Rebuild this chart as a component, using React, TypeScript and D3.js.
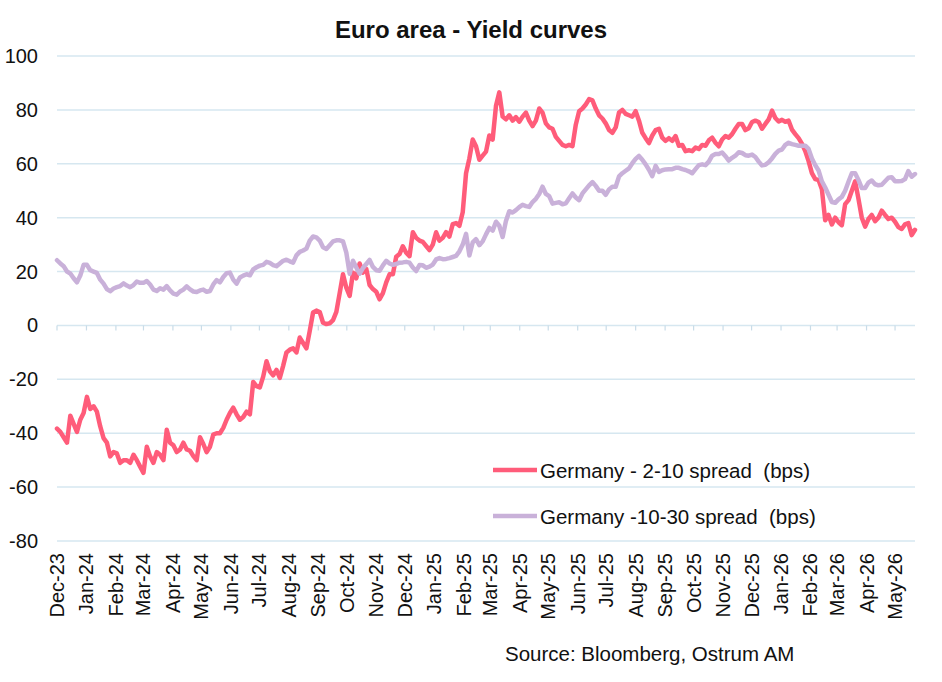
import React, { useRef, useEffect } from 'react';
import * as d3 from 'd3';

// Twice-weekly observations (every 3.5 days) starting 1 Dec 2023, in bps
const spread210 = [
  -38.3, -39.5, -41.5, -43.5, -33.5, -36.5, -39.5, -35, -32.5, -26.5,
  -31, -30, -32, -37.5, -41.8, -43.5, -48.6, -47, -47.5, -51,
  -50, -50, -51, -48, -50, -52.4, -54.7, -45, -48.6, -51,
  -47, -48, -50, -38.7, -43.5, -44.5, -47, -46, -43.5, -46,
  -46.5, -48.5, -50, -41.5, -44, -47, -45, -40.5, -40, -40,
  -38, -35, -32.5, -30.5, -33, -35, -34, -32, -33, -21,
  -22.5, -23, -19, -13.3, -17, -18.5, -16.5, -19.5, -15, -10,
  -9, -8.5, -10, -4.5, -6.5, -8.5, -2, 4.8, 5.5, 5,
  1, 0.5, 0.8, 2, 5, 12, 19, 14, 11, 19.6,
  17.5, 23, 19.6, 21, 15, 13.5, 12.5, 9.7, 12, 16,
  19, 19, 25.5, 26.5, 29.4, 27, 25.7, 34.6, 32.5, 31.5,
  31, 29.5, 28, 30, 34.6, 31.5, 32.5, 34.6, 33, 37.6,
  38, 37, 42, 56.5, 62, 69, 66.5, 61.5, 63, 64.5,
  70.5, 69, 81.5, 86.5, 77.5, 76.5, 78, 76, 77.3, 75.6,
  77.5, 79, 76, 74, 76, 80.5, 79, 75, 73.5, 73,
  70, 68.5, 67, 66.5, 67, 66.5, 74.5, 79.5, 80.5, 82,
  84, 83.5, 80.5, 78, 76.8, 75, 72.5, 71.5, 73.5, 79,
  80, 78.5, 78, 77.5, 79.5, 76, 71.5, 69.5, 67.7, 70.5,
  72.5, 73, 69.7, 68.5, 69.5, 68.5, 70.3, 66.7, 67, 64.7,
  65, 64.7, 66, 65.5, 67, 66.7, 68.7, 69.7, 67.8, 66.5,
  69, 70.3, 69.7, 71, 73, 74.8, 74.8, 72.5, 73.2, 75.5,
  76, 75.5, 73, 74.8, 76.5, 79.7, 77, 75.7, 76.3, 75.6,
  76, 72.7, 71, 69.5, 67.5, 64.7, 61, 56.5, 54.3, 54,
  50.5, 39, 41, 37.5, 40, 38.3, 37.2, 45, 46.5, 50,
  53.5, 47, 40, 36.7, 39.5, 41, 38.7, 40, 42.6, 41,
  39.5, 40, 38.5, 36.5, 35.8, 37.5, 38, 33.5, 35.5,
];

const spread1030 = [
  24.2, 23, 22, 20, 19.3, 17.5, 16, 18.5, 22.5, 22.5,
  20.5, 20, 19.5, 17, 15.5, 13.5, 12.7, 13.7, 14.2, 14.6,
  15.6, 14.8, 14.2, 15, 16.3, 15.8, 15.8, 16.5, 15.2, 13.3,
  12.8, 13.8, 13.3, 14.6, 13, 11.8, 11.4, 12.6, 13.3, 14.5,
  13.4, 12.6, 12.4, 13, 13.3, 12.5, 12.8, 15.2, 16.8, 16,
  18, 19.4, 19.6, 17, 15.5, 17.8, 18.5, 19, 18.6, 20.8,
  21.6, 22.2, 22.5, 23.6, 23.2, 22.4, 22, 23, 24, 24.4,
  23.8, 23.3, 26, 27.3, 27.8, 28.5, 31.5, 33, 32.7, 31.5,
  29, 28.4, 29.8, 31.2, 31.6, 31.6, 31.2, 27, 19.2, 24,
  21.5, 19.2, 21.3, 22.8, 24.3, 21.7, 20.5, 20.3, 22.3, 24,
  23, 22.5, 22.8, 23.3, 23.4, 23.6, 23.3, 21.5, 20.2, 22.4,
  22.3, 21.4, 21.8, 22.6, 24.5, 25, 24.6, 24.7, 25, 25.4,
  25.8, 27.5, 30, 34, 26, 30.8, 32, 29.8, 31.2, 33.8,
  36.2, 35.2, 38.5, 37, 32.8, 38.8, 42.4, 41.9, 42.8, 43.9,
  44.8, 44.3, 44, 45.8, 47, 48.8, 51.5, 48.8, 48, 45.2,
  45.5, 45.7, 45, 45.3, 47.2, 49, 47.5, 46.5, 49, 50.5,
  52, 53.2, 51.8, 50, 50, 48.5, 50.5, 51.5, 51.5, 55.3,
  56.5, 57.4, 58.3, 60.2, 61.8, 62.9, 61.5, 59.8, 57.8, 55.4,
  59.2, 57, 57.6, 57.9, 58, 58, 58.5, 58.5, 58, 57.7,
  57.2, 56.5, 58, 59.5, 59.8, 59.5, 60.8, 63, 63.6, 63.6,
  64.2, 62.8, 61.2, 62.2, 63, 64.3, 64, 63.2, 63, 63.4,
  62.5, 60.8, 59.4, 59.6, 60.6, 62, 63.7, 64.9, 65.3, 67,
  67.8, 67.3, 67, 66.7, 66.7, 66.7, 65.5, 62, 59.5, 57.5,
  53.5, 51.2, 48.5, 45.8, 45.5, 46.8, 47.7, 50, 53.3, 56.5,
  56.5, 54, 51, 51, 53, 53.8, 52.4, 52, 52.2, 53.5,
  54.8, 55, 53.5, 53.5, 53.6, 54.3, 57.3, 55.2, 56.2,
];

const yTicks = [100, 80, 60, 40, 20, 0, -20, -40, -60, -80];
const seriesNames = ['Germany - 2-10 spread  (bps)', 'Germany -10-30 spread  (bps)'];
const seriesColors = ['#ff5c7a', '#c9b1d9'];

const App = () => {
  const chartRef = useRef(null);

  useEffect(() => {
    const svg = d3.select(chartRef.current);
    svg.selectAll('*').remove();

    const width = 942;
    const height = 682;
    const font = "'Liberation Sans', Arial, sans-serif";

    const start = new Date(2023, 11, 1);
    const dateAt = i => d3.timeHour.offset(start, i * 84);
    const end = dateAt(spread210.length - 1);

    const x = d3.scaleTime().domain([start, end]).range([57, 915]);
    const y = d3.scaleLinear().domain([-80, 100]).range([541, 56]);

    svg.append('rect').attr('width', width).attr('height', height).attr('fill', '#fff');

    // horizontal gridlines
    svg.append('g')
      .selectAll('line')
      .data(yTicks)
      .join('line')
      .attr('x1', x.range()[0])
      .attr('x2', x.range()[1])
      .attr('y1', d => y(d))
      .attr('y2', d => y(d))
      .attr('stroke', '#d6e7f0')
      .attr('stroke-width', 1.5);

    // y labels
    svg.append('g')
      .selectAll('text')
      .data(yTicks)
      .join('text')
      .attr('x', 38)
      .attr('y', d => y(d))
      .attr('text-anchor', 'end')
      .attr('dominant-baseline', 'central')
      .style('font-family', font)
      .style('font-size', '20px')
      .attr('fill', '#111')
      .text(d => d);

    // month ticks on the zero line
    const months = d3.timeMonth.range(start, d3.timeDay.offset(end, 1));
    svg.append('g')
      .selectAll('line')
      .data(months)
      .join('line')
      .attr('x1', d => x(d))
      .attr('x2', d => x(d))
      .attr('y1', y(0))
      .attr('y2', y(0) + 5)
      .attr('stroke', '#c9dce8')
      .attr('stroke-width', 1.2);

    const fmt = d3.timeFormat('%b-%y');
    svg.append('g')
      .selectAll('text')
      .data(months)
      .join('text')
      .attr('transform', d => `translate(${x(d)},553) rotate(-90)`)
      .attr('text-anchor', 'end')
      .attr('dominant-baseline', 'central')
      .style('font-family', font)
      .style('font-size', '20px')
      .attr('fill', '#111')
      .text(d => fmt(d));

    // series
    [spread210, spread1030].forEach((vals, i) => {
      const line = d3.line()
        .x((d, j) => x(dateAt(j)))
        .y(d => y(d));
      svg.append('path')
        .datum(vals)
        .attr('fill', 'none')
        .attr('stroke', seriesColors[i])
        .attr('stroke-width', 4.5)
        .attr('stroke-linejoin', 'round')
        .attr('stroke-linecap', 'round')
        .attr('d', line);
    });

    // title
    svg.append('text')
      .attr('x', 471)
      .attr('y', 38)
      .attr('text-anchor', 'middle')
      .style('font-family', font)
      .style('font-size', '24px')
      .style('font-weight', 'bold')
      .attr('fill', '#111')
      .text('Euro area - Yield curves');

    // legend
    const legend = svg.append('g').attr('transform', 'translate(493,470)');
    seriesNames.forEach((name, i) => {
      const item = legend.append('g').attr('transform', `translate(0,${i * 46})`);
      item.append('line')
        .attr('x1', 0)
        .attr('x2', 44)
        .attr('stroke', seriesColors[i])
        .attr('stroke-width', 4.5);
      item.append('text')
        .attr('x', 47)
        .attr('dominant-baseline', 'central')
        .style('font-family', font)
        .style('font-size', '20.5px')
        .style('white-space', 'pre')
        .attr('fill', '#111')
        .text(name);
    });

    svg.append('text')
      .attr('x', 505)
      .attr('y', 653)
      .attr('dominant-baseline', 'central')
      .style('font-family', font)
      .style('font-size', '20.5px')
      .attr('fill', '#111')
      .text('Source: Bloomberg, Ostrum AM');
  }, []);

  return (
    <svg
      ref={chartRef}
      width="942"
      height="682"
      style={{ position: 'absolute', left: 0, top: 0 }}
    ></svg>
  );
};

export default App;
